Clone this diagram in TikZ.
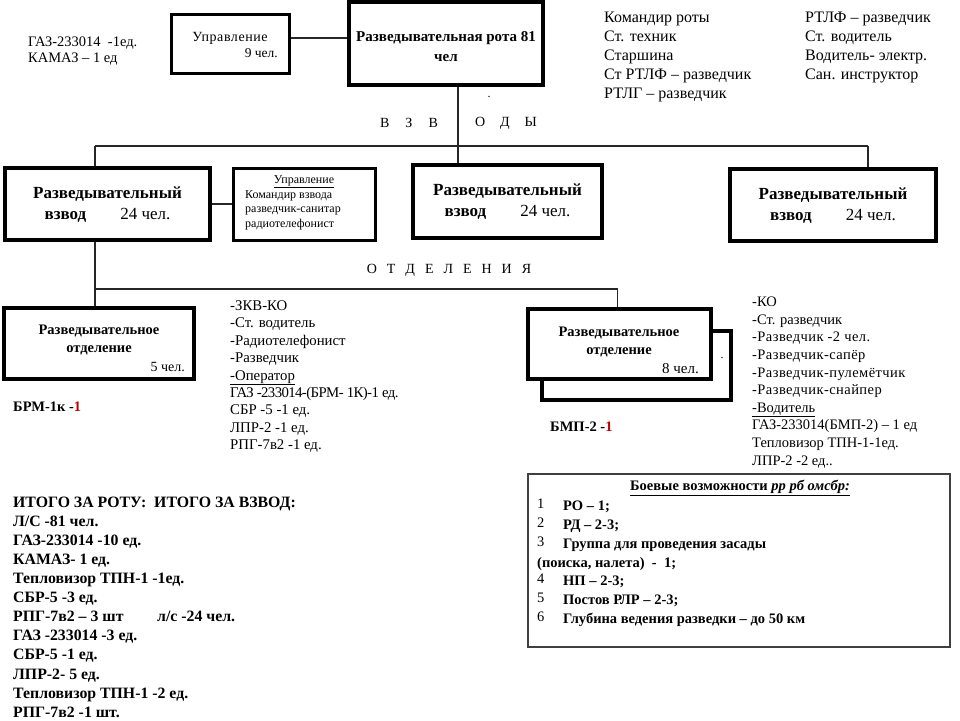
\documentclass[tikz,border=0pt]{standalone}
\usepackage{fontspec}
\setmainfont{Liberation Serif}
\usetikzlibrary{calc}
\newcommand\myfs[2]{\fontsize{#1pt}{#2pt}\selectfont}
\newcommand\ls[2]{{\addfontfeature{LetterSpace=#1}#2}}
\definecolor{myred}{RGB}{192,0,0}
\begin{document}
\begin{tikzpicture}[x=1pt,y=-1pt,
  box/.style={draw, line width=3.5pt, fill=white, inner sep=0pt, rectangle},
  conn/.style={draw=black!85, line width=1.1pt},
  txt/.style={inner sep=0pt, anchor=north west, align=left},
  ctxt/.style={inner sep=0pt, align=center}]
\useasboundingbox[fill=white] (0,0) rectangle (960,720);

% ---- top row ----
\node[txt, font=\myfs{14.5}{16.6}] (veh) at (28,36.5) {ГАЗ-233014\ \ -1ед.\\КАМАЗ – 1 ед};
\node[box, line width=3pt, minimum width=118, minimum height=59] (upr) at (230,43.5) {};
\node[ctxt, font=\myfs{14}{16}] (uprt) at (230,38) {\ls{4}{Управление}};
\node[inner sep=0pt, anchor=east, font=\myfs{13.5}{16}] (uprn) at (278,53) {9 чел.};
\node[box, line width=4pt, minimum width=194, minimum height=83] (rota) at (446,43.5) {};
\node[ctxt, font=\bfseries\myfs{15}{20}] (rotat) at (446,47) {Разведывательная рота 81\\чел};
\draw[conn] ([yshift=5.5pt]upr.east) -- ([yshift=5.5pt]upr.east -| rota.west);

\node[txt, font=\myfs{16}{19}] (staff1) at (604,12.3) {Командир роты\\Ст. техник\\Старшина\\Ст РТЛФ – разведчик\\РТЛГ – разведчик};
\node[txt, font=\myfs{16}{19}] (staff2) at (805,12.3) {РТЛФ – разведчик\\Ст. водитель\\Водитель- электр.\\Сан. инструктор};

\node[inner sep=0pt, font=\myfs{12}{12}] (dot1) at (489,97) {.};
\node[inner sep=0pt, font=\myfs{14}{14}] (vzv1) at (409,123) {В\hspace{16pt}З\hspace{16pt}В};
\node[inner sep=0pt, font=\myfs{14}{14}] (vzv2) at (506,123) {О\hspace{15pt}Д\hspace{15pt}Ы};

% ---- platoons ----
\node[box, minimum width=205, minimum height=72] (p1) at (107.5,204) {};
\node[box, line width=3pt, minimum width=142, minimum height=72] (pu) at (304,204) {};
\node[box, minimum width=189, minimum height=73] (p2) at (507.5,201.5) {};
\node[box, minimum width=206, minimum height=72] (p3) at (833,205) {};

\node[ctxt, font=\myfs{17}{21}] (p1t) at (107.5,205) {\textbf{Разведывательный}\\\textbf{взвод}\hspace{34pt}24 чел.};
\node[ctxt, font=\myfs{17}{21}] (p2t) at (507.5,202) {\textbf{Разведывательный}\\\textbf{взвод}\hspace{34pt}24 чел.};
\node[ctxt, font=\myfs{17}{21}] (p3t) at (833,206) {\textbf{Разведывательный}\\\textbf{взвод}\hspace{34pt}24 чел.};

\node[ctxt, font=\myfs{12}{14}] (put) at (304,182) {\underline{Управление}};
\node[txt, font=\myfs{12}{14.5}] (pul) at (245,190) {Командир взвода\\разведчик-санитар\\радиотелефонист};

\coordinate (busL) at (95,146);
\coordinate (busR) at (868,146);
\draw[conn] (busL) -- (busR);
\draw[conn] ([xshift=12pt]rota.south) -- ([xshift=12pt]rota.south |- p2.north);
\draw[conn] (busL) -- (busL |- p1.north);
\draw[conn] (busR) -- (busR |- p3.north);
\draw[conn] (p1.east) -- (pu.west);

\node[inner sep=0pt, font=\myfs{14}{14}] (otd) at (449,270) {О\hspace{10pt}Т\hspace{10pt}Д\hspace{10pt}Е\hspace{10pt}Л\hspace{10pt}Е\hspace{10pt}Н\hspace{10pt}И\hspace{10pt}Я};

% ---- squads ----
\node[box, minimum width=190, minimum height=71] (s1) at (99,343.5) {};
\node[box, minimum width=189, minimum height=69] (s2b) at (636.5,365.5) {};
\node[box, minimum width=183, minimum height=70] (s2) at (619.5,344) {};

\coordinate (bus2) at (95,289);
\draw[conn] (busL |- p1.south) -- (busL |- s1.north);
\draw[conn] (bus2) -| ([xshift=-2pt]s2.north);

\node[ctxt, font=\bfseries\myfs{14.5}{18}] (s1t) at (99,340) {Разведывательное\\отделение};
\node[inner sep=0pt, anchor=east, font=\myfs{14}{16}] (s1n) at (185,367) {5 чел.};
\node[ctxt, font=\bfseries\myfs{14.5}{18}] (s2t) at (619,342.5) {Разведывательное\\отделение};
\node[inner sep=0pt, anchor=east, font=\myfs{15}{16}] (s2n) at (699,369) {8 чел.};
\node[inner sep=0pt, font=\myfs{12}{12}] (dot2) at (722,358) {.};

\node[inner sep=0pt, anchor=west, font=\bfseries\myfs{14.5}{14}] (brm) at (13,407) {БРМ-1к -\textcolor{myred}{1}};
\node[inner sep=0pt, anchor=west, font=\bfseries\myfs{14.5}{14}] (bmp) at (550,427) {БМП-2 -\textcolor{myred}{1}};

\node[txt, font=\myfs{14.8}{17.4}] (s1l) at (230,300.5) {-ЗКВ-КО\\-Ст. водитель\\-Радиотелефонист\\-Разведчик\\\underline{-Оператор}\\\ls{-4}{ГАЗ -233014-(БРМ- 1К)-1 ед.}\\СБР -5 -1 ед.\\ЛПР-2 -1 ед.\\РПГ-7в2 -1 ед.};
\node[txt, font=\myfs{14.5}{17.6}] (s2l) at (752,296.9) {-КО\\-Ст. разведчик\\\ls{3}{-Разведчик -2 чел.}\\\ls{3}{-Разведчик-сапёр}\\\ls{3}{-Разведчик-пулемётчик}\\\ls{3}{-Разведчик-снайпер}\\\underline{-Водитель}\\ГАЗ-233014(БМП-2) – 1 ед\\Тепловизор ТПН-1-1ед.\\ЛПР-2 -2 ед..};

% ---- totals ----
\node[txt, font=\bfseries\myfs{15.8}{19.1}] (tot) at (13,496.5) {ИТОГО ЗА РОТУ:\ \ ИТОГО ЗА ВЗВОД:\\Л/С -81 чел.\\ГАЗ-233014 -10 ед.\\КАМАЗ- 1 ед.\\Тепловизор ТПН-1 -1ед.\\СБР-5 -3 ед.\\\makebox[144pt][l]{РПГ-7в2 – 3 шт}л/с -24 чел.\\ГАЗ -233014 -3 ед.\\СБР-5 -1 ед.\\ЛПР-2- 5 ед.\\Тепловизор ТПН-1 -2 ед.\\РПГ-7в2 -1 шт.};

% ---- combat capabilities ----
\node[draw=black!75, line width=1.5pt, fill=white, inner sep=0pt, minimum width=422, minimum height=173] (bv) at (739,560.5) {};
\node[ctxt, font=\bfseries\myfs{14.5}{14}] (bvt) at (740,488) {\underline{Боевые возможности \textit{рр рб омсбр:}}};
\node[txt, font=\bfseries\myfs{14.5}{18.8}] (bvl) at (537,498.9) {\makebox[26pt][l]{\mdseries\raisebox{2pt}{1}}РО – 1;\\\makebox[26pt][l]{\mdseries\raisebox{2pt}{2}}РД – 2-3;\\\makebox[26pt][l]{\mdseries\raisebox{2pt}{3}}Группа для проведения засады\\(поиска, налета)\ \ -\ \ 1;\\\makebox[26pt][l]{\mdseries\raisebox{2pt}{4}}НП – 2-3;\\\makebox[26pt][l]{\mdseries\raisebox{2pt}{5}}Постов РЛР – 2-3;\\\makebox[26pt][l]{\mdseries\raisebox{2pt}{6}}Глубина ведения разведки – до 50 км};
\end{tikzpicture}
\end{document}
